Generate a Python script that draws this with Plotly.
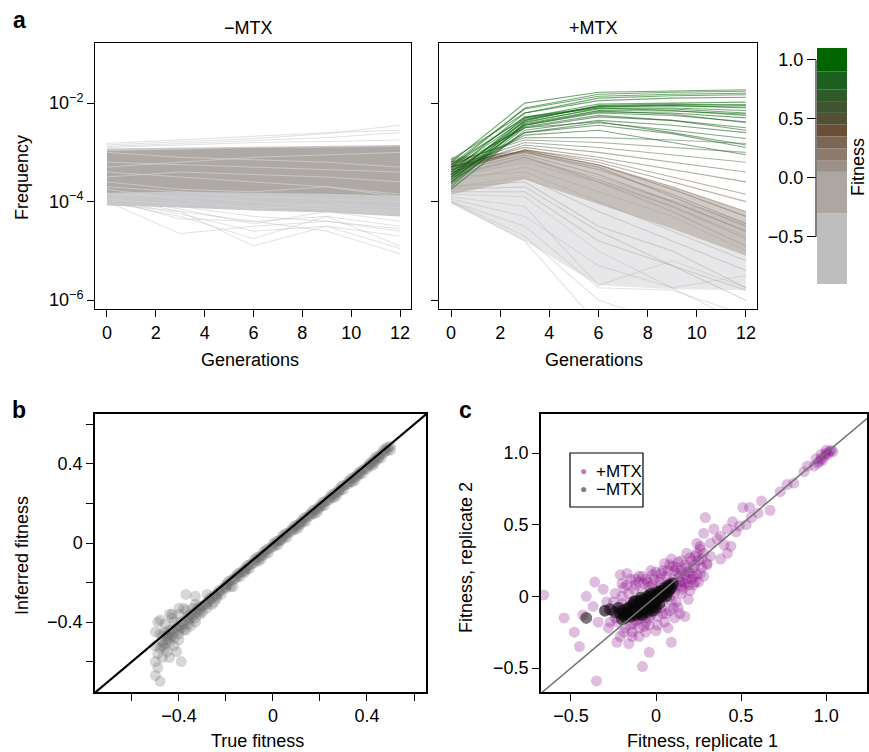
import plotly.graph_objects as go

# ---------------------------------------------------------------- data
GENERATIONS = [0, 3, 6, 9, 12]
GEN_TICKS = [0, 2, 4, 6, 8, 10, 12]
FREQ_TICKS = [1e-6, 1e-4, 1e-2]
FREQ_TICK_LABELS = ["10<sup>−6</sup>", "10<sup>−4</sup>", "10<sup>−2</sup>"]

# Panel a, -MTX (log10 frequency)
MINUS_OUTER_UPPER = [-2.92, -2.90, -2.88, -2.86, -2.85]
MINUS_OUTER_LOWER = [-4.08, -4.12, -4.18, -4.22, -4.30]
MINUS_CORE_UPPER = [-2.97, -2.94, -2.91, -2.90, -2.88]
MINUS_CORE_LOWER = [-3.82, -3.80, -3.82, -3.84, -3.88]
MINUS_LINES = [
    [-2.82, -2.75, -2.68, -2.60, -2.55],
    [-2.85, -2.78, -2.72, -2.62, -2.45],
    [-2.88, -2.82, -2.75, -2.70, -2.60],
    [-2.90, -2.85, -2.80, -2.78, -2.75],
    [-3.95, -4.35, -4.40, -4.30, -4.50],
    [-4.00, -4.65, -4.50, -4.40, -4.60],
    [-3.90, -4.20, -4.90, -4.50, -4.70],
    [-4.00, -4.30, -4.75, -4.30, -4.90],
    [-4.05, -4.20, -4.40, -4.60, -5.06],
    [-3.95, -4.25, -4.60, -4.50, -4.95],
    [-4.05, -4.10, -4.30, -4.40, -4.55],
    [-3.90, -4.15, -4.45, -4.20, -4.40],
    [-3.20, -3.25, -3.30, -3.35, -3.40],
    [-3.50, -3.40, -3.45, -3.50, -3.60],
    [-3.70, -3.80, -3.90, -3.95, -4.00],
    [-3.60, -3.75, -3.80, -3.70, -3.85],
    [-3.85, -3.90, -4.00, -4.10, -4.20],
    [-3.40, -3.50, -3.60, -3.70, -3.90],
    [-3.00, -3.10, -3.15, -3.20, -3.30],
    [-3.30, -3.20, -3.10, -3.05, -3.00],
    [-3.95, -4.05, -4.10, -4.15, -4.25],
    [-3.75, -3.95, -4.15, -4.05, -4.12],
]

# Panel a, +MTX (log10 frequency)
PLUS_FAN_UPPER = [-3.15, -3.05, -3.55, -3.95, -4.40]
PLUS_FAN_LOWER = [-4.05, -4.80, -5.70, -5.78, -5.80]
PLUS_CORE_UPPER = [-3.10, -2.97, -3.25, -3.70, -4.20]
PLUS_CORE_LOWER = [-3.85, -3.55, -4.05, -4.55, -5.10]
PLUS_FITNESS = [
    -0.60, -0.55, -0.50, -0.45, -0.40, -0.35, -0.30, -0.30, -0.25, -0.20,
    -0.15, -0.10, -0.05, 0.00,
    0.08, 0.10, 0.15, 0.20, 0.22, 0.25,
    0.30, 0.35, 0.40, 0.45, 0.50, 0.55, 0.60, 0.65,
    0.75, 0.78, 0.80, 0.82, 0.85, 0.86, 0.88, 0.90, 0.90, 0.92, 0.93, 0.93,
    0.95, 0.96, 0.97, 0.98, 1.00, 1.00,
    0.91, 0.94, 0.87, 0.95, 0.89, 0.99,
]
PLUS_LINES = [
    [-4.00, -4.80, -6.50, -6.50, -6.50],
    [-4.00, -4.70, -6.00, -6.50, -6.50],
    [-4.00, -4.50, -5.75, -5.80, -6.30],
    [-3.95, -4.30, -5.30, -5.75, -6.50],
    [-3.90, -4.10, -5.70, -5.20, -5.75],
    [-3.85, -3.90, -5.00, -5.75, -5.50],
    [-3.80, -3.80, -4.80, -5.30, -5.80],
    [-3.75, -3.70, -4.60, -5.30, -6.00],
    [-3.70, -3.60, -4.50, -5.00, -5.75],
    [-3.70, -3.50, -4.20, -4.80, -5.40],
    [-3.50, -3.40, -4.00, -4.60, -5.20],
    [-3.60, -3.30, -3.80, -4.30, -5.00],
    [-3.50, -3.20, -3.60, -4.10, -4.70],
    [-3.45, -3.15, -3.50, -4.00, -4.60],
    [-3.50, -3.10, -3.60, -4.20, -4.90],
    [-3.45, -3.10, -3.55, -4.10, -4.75],
    [-3.40, -3.05, -3.45, -4.00, -4.60],
    [-3.35, -3.00, -3.35, -3.85, -4.45],
    [-3.20, -3.00, -3.30, -3.90, -4.50],
    [-3.30, -2.97, -3.25, -3.75, -4.30],
    [-3.30, -2.97, -3.25, -3.70, -4.20],
    [-3.35, -2.95, -3.20, -3.60, -4.00],
    [-3.40, -2.95, -3.15, -3.50, -3.85],
    [-3.30, -2.90, -3.10, -3.35, -3.60],
    [-3.35, -2.85, -3.00, -3.20, -3.40],
    [-3.30, -2.80, -2.90, -3.05, -3.20],
    [-3.20, -2.75, -2.80, -2.90, -3.00],
    [-3.25, -2.70, -2.70, -2.75, -2.82],
    [-3.45, -2.65, -2.55, -2.80, -3.05],
    [-3.60, -2.60, -2.45, -2.62, -2.90],
    [-3.30, -2.50, -2.38, -2.60, -2.85],
    [-3.50, -2.60, -2.40, -2.55, -2.72],
    [-3.75, -2.55, -2.35, -2.45, -2.60],
    [-3.65, -2.50, -2.28, -2.35, -2.50],
    [-3.40, -2.45, -2.20, -2.25, -2.38],
    [-3.55, -2.45, -2.18, -2.20, -2.30],
    [-3.25, -2.30, -2.10, -2.15, -2.25],
    [-3.45, -2.38, -2.12, -2.12, -2.20],
    [-3.70, -2.40, -2.10, -2.10, -2.15],
    [-3.15, -2.20, -1.95, -1.90, -1.88],
    [-3.30, -2.28, -2.08, -2.05, -2.10],
    [-3.60, -2.35, -2.05, -2.02, -2.05],
    [-3.50, -2.30, -2.02, -2.00, -1.98],
    [-3.40, -2.20, -1.90, -1.85, -1.83],
    [-3.20, -2.00, -1.78, -1.75, -1.73],
    [-3.30, -2.10, -1.82, -1.78, -1.76],
    [-3.50, -2.42, -2.15, -2.16, -2.22],
    [-3.35, -2.33, -2.07, -2.06, -2.08],
    [-3.55, -2.48, -2.25, -2.35, -2.55],
    [-3.45, -2.36, -2.06, -2.04, -2.03],
    [-3.62, -2.44, -2.16, -2.22, -2.40],
    [-3.25, -2.12, -1.86, -1.82, -1.80],
]

# Colour key (fitness bands)
FITNESS_BAND_EDGES = [-0.9, -0.3, 0.05, 0.15, 0.25, 0.35, 0.45, 0.55, 0.65, 0.75, 0.9, 1.1]
FITNESS_BAND_COLORS = ["#bebebe", "#aca7a3", "#9d9088", "#8b7b6d", "#7a6653", "#6a4f37",
                       "#535033", "#40552f", "#2e5a27", "#1c5f1e", "#006400"]
FITNESS_TICKS = [-0.5, 0.0, 0.5, 1.0]
FITNESS_TICK_LABELS = ["−0.5", "0.0", "0.5", "1.0"]

# Panel b: (true fitness, inferred fitness)
B_POINTS = [
    (0.50, 0.49), (0.49, 0.47), (0.48, 0.48), (0.47, 0.455), (0.46, 0.45), (0.45, 0.43),
    (0.44, 0.435), (0.43, 0.41), (0.42, 0.41), (0.41, 0.395), (0.40, 0.385), (0.38, 0.37),
    (0.37, 0.35), (0.36, 0.35), (0.34, 0.33), (0.33, 0.31), (0.32, 0.31), (0.30, 0.29),
    (0.29, 0.27), (0.28, 0.27), (0.26, 0.25), (0.25, 0.23), (0.24, 0.23), (0.22, 0.21),
    (0.21, 0.19), (0.20, 0.19), (0.18, 0.17), (0.17, 0.15), (0.16, 0.15), (0.14, 0.13),
    (0.13, 0.11), (0.12, 0.11), (0.10, 0.09), (0.09, 0.07), (0.08, 0.07), (0.06, 0.05),
    (0.05, 0.03), (0.04, 0.035), (0.02, 0.01), (0.01, -0.01), (0.00, -0.005), (-0.02, -0.03),
    (-0.03, -0.05), (-0.04, -0.045), (-0.06, -0.07), (-0.07, -0.09), (-0.08, -0.085),
    (-0.10, -0.11), (-0.11, -0.13), (-0.12, -0.13), (-0.14, -0.15), (-0.15, -0.17),
    (-0.16, -0.17), (-0.18, -0.19), (-0.19, -0.21), (-0.20, -0.21), (-0.22, -0.24),
    (-0.23, -0.25), (-0.24, -0.26), (-0.26, -0.28), (-0.27, -0.29), (-0.28, -0.31),
    (-0.30, -0.32), (-0.31, -0.34), (-0.32, -0.33), (-0.34, -0.37), (-0.35, -0.38),
    (-0.36, -0.37), (-0.38, -0.41), (-0.39, -0.43), (-0.40, -0.42), (-0.42, -0.45),
    (-0.43, -0.47), (-0.44, -0.44), (-0.45, -0.49), (-0.46, -0.51), (-0.47, -0.47),
    (-0.48, -0.53), (-0.49, -0.56), (-0.50, -0.60), (-0.49, -0.63), (-0.48, -0.70),
    (-0.50, -0.67), (-0.47, -0.58), (-0.45, -0.55), (-0.42, -0.52), (-0.39, -0.60),
    (-0.41, -0.55), (-0.44, -0.58), (-0.49, -0.40), (-0.46, -0.41), (-0.43, -0.38),
    (-0.37, -0.34), (-0.33, -0.31), (-0.28, -0.26), (-0.20, -0.23), (-0.12, -0.15),
    (-0.05, -0.08), (0.03, 0.01), (0.11, 0.08), (0.19, 0.16), (0.27, 0.24), (0.35, 0.32),
    (0.43, 0.40), (-0.36, -0.41), (-0.33, -0.38), (-0.25, -0.30), (-0.17, -0.22),
    (-0.47, -0.52), (-0.44, -0.50), (-0.40, -0.46), (-0.38, -0.44), (-0.31, -0.36),
    (0.49, 0.485), (0.47, 0.47), (0.45, 0.44), (0.43, 0.425), (0.41, 0.40), (0.39, 0.375),
    (0.37, 0.36), (0.35, 0.335), (0.33, 0.325), (0.31, 0.295), (0.29, 0.285), (0.27, 0.255),
    (0.25, 0.245), (0.23, 0.215), (0.21, 0.205), (0.19, 0.175), (0.17, 0.165), (0.15, 0.135),
    (0.13, 0.125), (0.11, 0.095), (0.09, 0.085), (0.07, 0.055), (0.05, 0.045), (0.03, 0.015),
    (0.01, 0.005), (-0.01, -0.025), (-0.03, -0.035), (-0.05, -0.065), (-0.07, -0.075),
    (-0.09, -0.105), (-0.11, -0.115), (-0.13, -0.145), (-0.15, -0.155), (-0.17, -0.185),
    (-0.19, -0.195), (-0.21, -0.225), (-0.23, -0.24), (-0.25, -0.265), (-0.27, -0.28),
    (-0.29, -0.31), (-0.31, -0.32), (-0.33, -0.35), (-0.35, -0.36), (-0.37, -0.39),
    (-0.39, -0.40), (-0.41, -0.43), (-0.43, -0.44), (-0.45, -0.47), (-0.47, -0.50),
    (-0.48, -0.46), (-0.46, -0.45), (-0.44, -0.48), (-0.42, -0.48), (-0.40, -0.49),
    (-0.37, -0.44), (-0.35, -0.42), (-0.33, -0.40), (-0.30, -0.35), (-0.28, -0.33),
    (-0.26, -0.31), (-0.24, -0.28), (-0.22, -0.26), (-0.18, -0.22), (-0.14, -0.17),
    (-0.10, -0.13), (-0.06, -0.09), (-0.02, -0.05), (0.02, -0.01), (0.06, 0.03), (0.10, 0.07),
    (0.14, 0.11), (0.18, 0.15), (0.22, 0.19), (0.26, 0.23), (0.30, 0.27), (0.34, 0.31),
    (0.38, 0.35), (0.42, 0.39), (0.46, 0.43), (0.50, 0.47), (-0.50, -0.52), (-0.50, -0.45),
    (-0.48, -0.39), (-0.44, -0.36), (-0.40, -0.36), (-0.38, -0.33), (-0.37, -0.26),
    (-0.33, -0.27), (-0.40, -0.33), (-0.43, -0.36),
    (0.48, 0.465), (0.44, 0.42), (0.40, 0.375), (0.36, 0.34), (0.32, 0.30), (0.28, 0.26),
    (0.24, 0.22), (0.20, 0.18), (0.16, 0.14), (0.12, 0.10), (0.08, 0.06), (0.04, 0.02),
    (0.00, -0.02), (-0.04, -0.06), (-0.08, -0.10), (-0.12, -0.14), (-0.16, -0.18),
    (-0.20, -0.22), (-0.24, -0.27), (-0.28, -0.30), (-0.32, -0.35), (-0.36, -0.39),
    (-0.40, -0.44), (-0.44, -0.46), (-0.46, -0.53), (-0.42, -0.40), (-0.34, -0.33),
]
B_TICKS = [-0.6, -0.4, -0.2, 0.0, 0.2, 0.4, 0.6]
B_TICK_LABELS = ["", "−0.4", "", "0", "", "0.4", ""]
B_IDENTITY = [-0.8, 0.7]

# Panel c: (replicate 1, replicate 2)
C_PLUS_POINTS = [
    (-0.22, -0.12), (-0.20, -0.05), (-0.18, -0.15), (-0.17, -0.08), (-0.16, 0.02), (-0.15, -0.20),
    (-0.14, -0.10), (-0.13, 0.05), (-0.12, -0.17), (-0.11, -0.03), (-0.10, 0.10), (-0.10, -0.22),
    (-0.09, -0.12), (-0.08, 0.03), (-0.07, -0.07), (-0.06, 0.12), (-0.06, -0.18), (-0.05, -0.02),
    (-0.04, 0.07), (-0.03, -0.13), (-0.02, 0.15), (-0.01, -0.05), (0.00, 0.05), (0.01, -0.20),
    (0.02, 0.10), (0.03, -0.08), (0.04, 0.18), (0.05, 0.00), (0.06, -0.12), (0.07, 0.08),
    (0.08, 0.22), (0.09, -0.03), (0.10, 0.12), (0.11, 0.03), (0.12, 0.20), (0.13, -0.08),
    (0.14, 0.10), (0.15, 0.25), (0.16, 0.05), (0.17, 0.15), (0.18, 0.20), (0.19, 0.08),
    (0.20, 0.27), (0.21, 0.12), (0.22, 0.20), (0.24, 0.15), (0.25, 0.25), (0.27, 0.20),
    (0.28, 0.30), (0.30, 0.22),
    (-0.19, -0.10), (-0.16, -0.12), (-0.13, -0.06), (-0.11, -0.14), (-0.09, -0.06), (-0.08, -0.15),
    (-0.05, -0.10), (-0.03, 0.00), (0.00, -0.10), (0.02, 0.02), (0.04, -0.04), (0.06, 0.06),
    (0.08, 0.00), (0.10, 0.05), (0.12, 0.08), (0.14, 0.14), (0.16, 0.10), (0.18, 0.12),
    (0.20, 0.16), (0.06, 0.14), (0.03, 0.12), (-0.02, 0.08), (0.10, -0.08), (0.15, 0.02),
    (-0.12, 0.08), (-0.07, 0.09), (0.00, 0.17), (0.05, 0.23), (0.11, 0.18), (0.22, 0.08),
    (0.25, 0.10), (0.20, 0.04), (-0.04, -0.20), (-0.10, -0.28), (-0.14, -0.25), (-0.06, -0.25),
    (0.05, -0.18), (0.07, -0.22), (0.13, 0.16), (0.09, 0.10), (0.17, 0.09), (0.23, 0.22),
    (-0.23, -0.18), (-0.21, -0.08), (-0.20, 0.00), (-0.18, -0.22), (-0.17, 0.08), (-0.15, -0.04),
    (-0.13, -0.19), (-0.12, 0.12), (-0.10, -0.16), (-0.08, 0.14), (-0.07, -0.21), (-0.05, 0.10),
    (-0.04, -0.15), (-0.01, 0.12), (0.01, -0.14), (0.03, 0.16), (0.04, -0.12), (0.07, 0.18),
    (0.08, -0.10), (0.10, 0.21), (0.12, -0.04), (0.13, 0.24), (0.15, 0.07), (0.17, 0.22),
    (0.19, 0.17), (0.21, 0.25), (0.23, 0.10), (0.24, 0.30), (0.27, 0.26), (0.26, 0.16),
    (0.19, -0.02), (0.14, -0.12), (-0.19, -0.25), (-0.23, -0.32), (-0.16, -0.33), (0.00, -0.24),
    (0.11, -0.15), (-0.26, -0.10), (-0.29, -0.04), (-0.20, 0.09),
    (-0.66, 0.01), (-0.54, -0.15), (-0.36, 0.10), (-0.41, 0.00), (-0.48, -0.25), (-0.45, -0.35),
    (-0.35, -0.59), (-0.08, -0.49), (-0.04, -0.39), (0.09, -0.32), (0.17, -0.14), (-0.21, 0.15),
    (-0.31, 0.05), (-0.25, -0.04), (-0.27, -0.18), (-0.21, -0.28), (-0.14, -0.28), (-0.37, -0.07),
    (-0.34, -0.18), (-0.43, -0.13), (-0.30, -0.10), (-0.28, -0.22), (-0.24, -0.15), (-0.19, 0.06),
    (-0.15, 0.12), (-0.24, 0.02),
    (0.09, 0.26), (0.18, 0.30), (0.15, 0.18), (0.23, 0.28), (-0.03, 0.18), (-0.10, 0.14),
    (-0.17, 0.16), (0.10, 0.09), (0.22, 0.14), (0.30, 0.23), (0.28, 0.14), (0.26, 0.33),
    (0.32, 0.28),
    (0.29, 0.55), (0.24, 0.37), (0.26, 0.35), (0.28, 0.44), (0.32, 0.37), (0.34, 0.47),
    (0.38, 0.42), (0.38, 0.26), (0.42, 0.47), (0.42, 0.30), (0.44, 0.35), (0.45, 0.52),
    (0.49, 0.49), (0.51, 0.62), (0.55, 0.62), (0.56, 0.55), (0.62, 0.665), (0.60, 0.58),
    (0.67, 0.60), (0.73, 0.73), (0.77, 0.78), (0.81, 0.79), (0.87, 0.87), (0.89, 0.91),
    (0.93, 0.91), (0.95, 0.93), (0.96, 0.94), (0.97, 0.96), (0.98, 0.95), (0.99, 0.98),
    (1.00, 1.00), (1.01, 0.99), (1.02, 1.01), (1.03, 1.02), (1.04, 1.01), (0.97, 0.99),
    (1.00, 1.02), (0.94, 0.96), (0.36, 0.40), (0.40, 0.36), (0.47, 0.45), (0.53, 0.50),
]
C_MINUS_POINTS = [
    (-0.20, -0.10), (-0.18, -0.12), (-0.16, -0.08), (-0.15, -0.11), (-0.14, -0.06), (-0.13, -0.10),
    (-0.12, -0.13), (-0.11, -0.07), (-0.10, -0.04), (-0.10, -0.10), (-0.09, -0.12), (-0.08, -0.06),
    (-0.07, -0.02), (-0.07, -0.09), (-0.06, -0.05), (-0.05, -0.11), (-0.05, 0.00), (-0.04, -0.04),
    (-0.03, -0.07), (-0.03, 0.02), (-0.02, -0.02), (-0.01, -0.05), (0.00, 0.01), (0.00, -0.08),
    (0.01, -0.02), (0.02, 0.03), (0.03, 0.00), (0.04, 0.04), (0.05, 0.02), (0.06, 0.05),
    (0.07, 0.03), (-0.12, -0.03), (-0.09, -0.01), (-0.15, -0.14), (-0.02, -0.10), (0.02, -0.05),
    (-0.08, -0.08), (-0.06, -0.03), (-0.04, -0.07), (-0.01, -0.01), (0.01, 0.00), (-0.11, -0.09),
    (-0.19, -0.13), (-0.17, -0.09), (-0.16, -0.13), (-0.14, -0.09), (-0.13, -0.04), (-0.12, -0.08),
    (-0.11, -0.11), (-0.10, -0.06), (-0.09, -0.03), (-0.08, -0.10), (-0.07, -0.05), (-0.06, -0.08),
    (-0.05, -0.03), (-0.04, 0.00), (-0.04, -0.09), (-0.03, -0.04), (-0.02, 0.01), (-0.01, -0.07),
    (0.00, -0.03), (0.01, 0.03), (0.02, -0.01), (0.03, 0.04), (0.04, 0.01), (0.05, 0.06),
    (0.06, 0.00), (0.08, 0.05), (-0.08, -0.13), (-0.13, -0.12), (-0.17, -0.12), (-0.21, -0.12),
    (0.08, 0.08), (0.09, 0.06), (0.10, 0.09), (0.07, 0.07), (-0.20, -0.16), (-0.18, -0.15),
    (-0.30, -0.10), (-0.27, -0.09), (-0.24, -0.11), (-0.22, -0.08), (-0.41, -0.15),
]
C_TICKS = [-0.5, 0.0, 0.5, 1.0]
C_TICK_LABELS = ["−0.5", "0", "0.5", "1.0"]
C_IDENTITY = [-0.8, 1.4]
C_LEGEND_LABELS = ["+MTX", "−MTX"]
C_LEGEND_COLORS = ["rgb(190,120,190)", "rgb(128,128,128)"]

# ---------------------------------------------------------------- helpers
W, H = 869, 752
FONT = "Liberation Sans, Arial, Helvetica, sans-serif"
FS = 18


def px(x):
    return x / W


def py(y):
    return 1 - y / H


def band_color(f):
    for i in range(len(FITNESS_BAND_COLORS)):
        if f < FITNESS_BAND_EDGES[i + 1]:
            return FITNESS_BAND_COLORS[i]
    return FITNESS_BAND_COLORS[-1]


def rgba(hexcol, a):
    h = hexcol.lstrip("#")
    r, g, b = int(h[0:2], 16), int(h[2:4], 16), int(h[4:6], 16)
    return f"rgba({r},{g},{b},{a})"


def pow10(vals):
    return [10 ** v for v in vals]


fig = go.Figure()

# ---------------------------------------------------------------- panel a left
fig.add_trace(go.Scatter(x=GENERATIONS + GENERATIONS[::-1],
                         y=pow10(MINUS_OUTER_UPPER + MINUS_OUTER_LOWER[::-1]),
                         fill="toself", fillcolor="rgba(200,200,202,1)", line=dict(width=0),
                         mode="lines", xaxis="x", yaxis="y", hoverinfo="skip"))
fig.add_trace(go.Scatter(x=GENERATIONS + GENERATIONS[::-1],
                         y=pow10(MINUS_CORE_UPPER + MINUS_CORE_LOWER[::-1]),
                         fill="toself", fillcolor="rgba(174,169,165,1)", line=dict(width=0),
                         mode="lines", xaxis="x", yaxis="y", hoverinfo="skip"))
for i, row in enumerate(MINUS_LINES):
    col = "rgba(210,210,212,0.7)" if i >= 12 else "rgba(200,200,200,0.55)"
    fig.add_trace(go.Scatter(x=GENERATIONS, y=pow10(row), mode="lines",
                             line=dict(color=col, width=1), xaxis="x", yaxis="y", hoverinfo="skip"))

# ---------------------------------------------------------------- panel a right
fig.add_trace(go.Scatter(x=GENERATIONS + GENERATIONS[::-1],
                         y=pow10(PLUS_FAN_UPPER + PLUS_FAN_LOWER[::-1]),
                         fill="toself", fillcolor="rgba(208,208,211,0.5)", line=dict(width=0),
                         mode="lines", xaxis="x2", yaxis="y2", hoverinfo="skip"))
fig.add_trace(go.Scatter(x=GENERATIONS + GENERATIONS[::-1],
                         y=pow10(PLUS_CORE_UPPER + PLUS_CORE_LOWER[::-1]),
                         fill="toself", fillcolor="rgba(170,160,152,0.55)", line=dict(width=0),
                         mode="lines", xaxis="x2", yaxis="y2", hoverinfo="skip"))
order = sorted(range(len(PLUS_FITNESS)), key=lambda k: PLUS_FITNESS[k])
for k in order:
    f, row = PLUS_FITNESS[k], PLUS_LINES[k]
    a = 0.55 if f >= 0.7 else 0.45
    fig.add_trace(go.Scatter(x=GENERATIONS, y=pow10(row), mode="lines",
                             line=dict(color=rgba(band_color(f), a), width=1.1),
                             xaxis="x2", yaxis="y2", hoverinfo="skip"))

# ---------------------------------------------------------------- colour key
lows = FITNESS_BAND_EDGES[:-1]
heights = [FITNESS_BAND_EDGES[i + 1] - FITNESS_BAND_EDGES[i] for i in range(len(lows))]
fig.add_trace(go.Bar(x=[0.5] * len(lows), y=heights, base=lows, width=1,
                     marker=dict(color=FITNESS_BAND_COLORS, line=dict(width=0)),
                     xaxis="x3", yaxis="y3", hoverinfo="skip"))

# ---------------------------------------------------------------- panel b
fig.add_trace(go.Scatter(x=[p[0] for p in B_POINTS], y=[p[1] for p in B_POINTS], mode="markers",
                         marker=dict(size=11, color="rgba(100,100,100,0.26)", line=dict(width=0)),
                         xaxis="x4", yaxis="y4", hoverinfo="skip"))
fig.add_trace(go.Scatter(x=B_IDENTITY, y=B_IDENTITY, mode="lines",
                         line=dict(color="black", width=2.2), xaxis="x4", yaxis="y4",
                         hoverinfo="skip"))

# ---------------------------------------------------------------- panel c
fig.add_trace(go.Scatter(x=[p[0] for p in C_PLUS_POINTS], y=[p[1] for p in C_PLUS_POINTS],
                         mode="markers",
                         marker=dict(size=11, color="rgba(135,10,135,0.27)", line=dict(width=0)),
                         xaxis="x5", yaxis="y5", hoverinfo="skip"))
fig.add_trace(go.Scatter(x=[p[0] for p in C_MINUS_POINTS], y=[p[1] for p in C_MINUS_POINTS],
                         mode="markers",
                         marker=dict(size=12, color="rgba(10,10,10,0.55)", line=dict(width=0)),
                         xaxis="x5", yaxis="y5", hoverinfo="skip"))
fig.add_trace(go.Scatter(x=C_IDENTITY, y=C_IDENTITY, mode="lines",
                         line=dict(color="rgb(115,115,115)", width=1.5), xaxis="x5", yaxis="y5",
                         hoverinfo="skip"))

# ---------------------------------------------------------------- layout
tickfont = dict(family=FONT, size=FS, color="black")
common = dict(showgrid=False, zeroline=False, showline=True, linecolor="black", linewidth=1,
              mirror=True, ticks="outside", ticklen=7, tickwidth=1, tickcolor="black",
              tickfont=tickfont)

ya_dom = [py(309), py(43)]
yb_dom = [py(692), py(414)]

layout = dict(
    width=W, height=H, margin=dict(l=0, r=0, t=0, b=0),
    paper_bgcolor="white", plot_bgcolor="white", showlegend=False,
    font=dict(family=FONT, size=FS, color="black"),
    barmode="overlay",
    xaxis=dict(domain=[px(95), px(411)], range=[-0.49, 12.45], tickvals=GEN_TICKS,
               anchor="y", **common),
    yaxis=dict(domain=ya_dom, type="log", range=[-6.18, -0.78], tickvals=FREQ_TICKS,
               ticktext=FREQ_TICK_LABELS, anchor="x", **common),
    xaxis2=dict(domain=[px(439), px(757)], range=[-0.49, 12.45], tickvals=GEN_TICKS,
                anchor="y2", **common),
    yaxis2=dict(domain=ya_dom, type="log", range=[-6.18, -0.78], tickvals=FREQ_TICKS,
                showticklabels=False, anchor="x2", **common),
    xaxis3=dict(domain=[px(817), px(847)], range=[0, 1], visible=False, anchor="y3",
                fixedrange=True),
    yaxis3=dict(domain=[py(284), py(48)], range=[-0.9, 1.1], tickvals=FITNESS_TICKS,
                ticktext=FITNESS_TICK_LABELS, showgrid=False, zeroline=False, showline=False,
                ticks="outside", ticklen=9, tickwidth=1, tickcolor="black", tickfont=tickfont,
                anchor="x3", side="left"),
    xaxis4=dict(domain=[px(95), px(426)], range=[-0.757, 0.651], tickvals=B_TICKS,
                ticktext=B_TICK_LABELS, anchor="y4", **{**common, "linewidth": 1.5}),
    yaxis4=dict(domain=yb_dom, range=[-0.754, 0.653], tickvals=B_TICKS,
                ticktext=B_TICK_LABELS, anchor="x4", **{**common, "linewidth": 1.5}),
    xaxis5=dict(domain=[px(541), px(867)], range=[-0.676, 1.24], tickvals=C_TICKS,
                ticktext=C_TICK_LABELS, anchor="y5", **{**common, "linewidth": 1.5}),
    yaxis5=dict(domain=yb_dom, range=[-0.667, 1.272], tickvals=C_TICKS,
                ticktext=C_TICK_LABELS, anchor="x5", **{**common, "linewidth": 1.5}),
)
fig.update_layout(**layout)

# colour key axis line spanning labelled ticks
fig.add_shape(type="line", xref="paper", yref="y3", x0=px(816), x1=px(816),
              y0=min(FITNESS_TICKS), y1=max(FITNESS_TICKS), line=dict(color="black", width=1))


def ann(text, x, y, size=FS, bold=False, angle=0, xanchor="center", color="black"):
    fig.add_annotation(text=f"<b>{text}</b>" if bold else text, x=px(x), y=py(y),
                       xref="paper", yref="paper", showarrow=False, textangle=angle,
                       xanchor=xanchor, yanchor="middle",
                       font=dict(family=FONT, size=size, color=color))


ann("a", 19, 20, size=23, bold=True)
ann("b", 19, 410, size=23, bold=True)
ann("c", 465, 410, size=23, bold=True)
ann("−MTX", 248, 28)
ann("+MTX", 593, 28)
ann("Frequency", 22, 178, angle=-90)
ann("Generations", 250, 360)
ann("Generations", 594, 360)
ann("Fitness", 858, 167, angle=-90)
ann("Inferred fitness", 22, 556, angle=-90)
ann("True fitness", 257, 741)
ann("Fitness, replicate 2", 466, 557, angle=-90)
ann("Fitness, replicate 1", 702, 741)

# manual legend for panel c
fig.add_shape(type="rect", xref="paper", yref="paper", x0=px(570), x1=px(643),
              y0=py(507), y1=py(453), line=dict(color="black", width=1.2), fillcolor="white")
for i, (lab, col) in enumerate(zip(C_LEGEND_LABELS, C_LEGEND_COLORS)):
    yy = 471 + 18 * i
    ann("●", 583, yy, size=12, color=col)
    ann(lab, 594, yy, size=17, xanchor="left")

fig.write_html("out.html", config={"displayModeBar": False},
               post_script="document.body.style.margin='0';")
